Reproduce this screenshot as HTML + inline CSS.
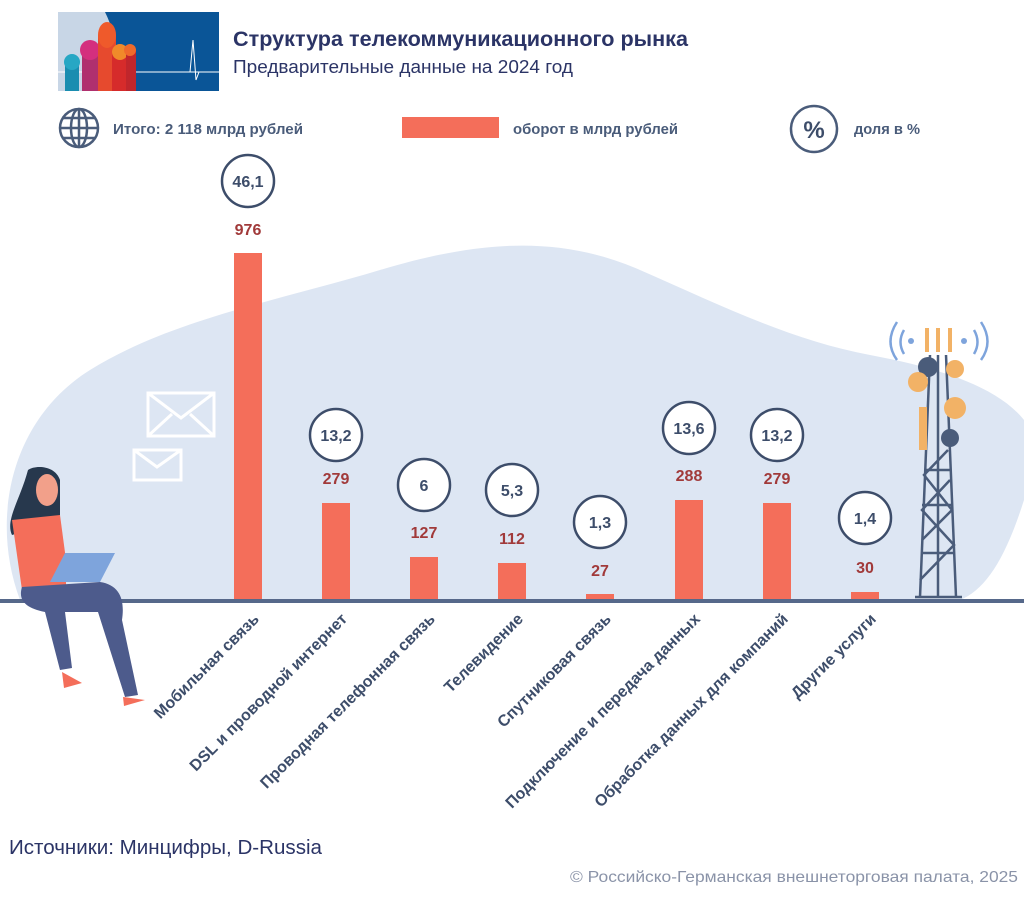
<!DOCTYPE html>
<html><head><meta charset="utf-8"><style>
body{margin:0;background:#fff;width:1024px;height:893px;overflow:hidden;font-family:"Liberation Sans",sans-serif}
</style></head><body>
<svg width="1024" height="893" xmlns="http://www.w3.org/2000/svg" font-family="Liberation Sans, sans-serif">
<path d="M20,600 C-10,520 10,420 90,370 C170,320 280,300 380,270 C480,240 560,235 640,270 C720,305 790,340 870,355 C950,370 1000,390 1024,420 L1024,500 C1005,560 985,590 960,600 Z" fill="#dde6f3"/>
<rect x="58" y="12" width="105" height="79" fill="#c8d6e6"/>
<path d="M105,12 L219,12 L219,91 L105,91 C118,65 118,38 105,12Z" fill="#0a5597"/>
<line x1="58" y1="72" x2="219" y2="72" stroke="#fff" stroke-width="1"/>
<polyline points="185,72 190,72 193,40 196,80 199,72 219,72" fill="none" stroke="#fff" stroke-width="1"/>
<rect x="65" y="62" width="14" height="29" fill="#1a8db0"/><circle cx="72" cy="62" r="8" fill="#27a7c4"/>
<rect x="82" y="50" width="16" height="41" fill="#b0306e"/><circle cx="90" cy="50" r="10" fill="#d42f7e"/>
<rect x="98" y="35" width="18" height="56" fill="#e64a2e"/><ellipse cx="107" cy="35" rx="9" ry="13" fill="#ef5a2b"/>
<rect x="112" y="52" width="16" height="39" fill="#d62b2b"/><circle cx="120" cy="52" r="8" fill="#f08a2a"/>
<rect x="126" y="50" width="10" height="41" fill="#c0262c"/><circle cx="130" cy="50" r="6" fill="#ef6a2b"/>
<text x="233" y="46" font-size="21" font-weight="bold" fill="#2b3466" textLength="455" lengthAdjust="spacingAndGlyphs">Структура телекоммуникационного рынка</text>
<text x="233" y="73" font-size="18" fill="#2b3466" textLength="340" lengthAdjust="spacingAndGlyphs">Предварительные данные на 2024 год</text>
<g stroke="#4a5c7a" stroke-width="2.5" fill="none"><circle cx="79" cy="128" r="19"/><ellipse cx="79" cy="128" rx="8" ry="19"/><line x1="60" y1="128" x2="98" y2="128"/><line x1="63" y1="118" x2="95" y2="118"/><line x1="63" y1="138" x2="95" y2="138"/><line x1="79" y1="109" x2="79" y2="147"/></g>
<text x="113" y="134" font-size="15" font-weight="bold" fill="#4a5c7a" textLength="190" lengthAdjust="spacingAndGlyphs">Итого: 2 118 млрд рублей</text>
<rect x="402" y="117" width="97" height="21" fill="#f46e5a"/>
<text x="513" y="134" font-size="15" font-weight="bold" fill="#4a5c7a" textLength="165" lengthAdjust="spacingAndGlyphs">оборот в млрд рублей</text>
<circle cx="814" cy="129" r="23" fill="#fff" stroke="#4a5c7a" stroke-width="2.5"/>
<text x="814" y="138" font-size="24" font-weight="bold" fill="#3d4d6a" text-anchor="middle">%</text>
<text x="854" y="134" font-size="15" font-weight="bold" fill="#4a5c7a" textLength="66" lengthAdjust="spacingAndGlyphs">доля в %</text>
<g stroke="#fff" stroke-width="3" fill="none"><rect x="148" y="393" width="66" height="43"/><polyline points="148,393 181,418 214,393"/><line x1="148" y1="436" x2="172" y2="414"/><line x1="214" y1="436" x2="190" y2="414"/>
<rect x="134" y="450" width="47" height="30"/><polyline points="134,450 157,467 181,450"/></g>
<g fill="#f46e5a">
<rect x="234" y="253" width="28" height="348"/><rect x="322" y="503" width="28" height="98"/><rect x="410" y="557" width="28" height="44"/><rect x="498" y="563" width="28" height="38"/><rect x="586" y="594" width="28" height="7"/><rect x="675" y="500" width="28" height="101"/><rect x="763" y="503" width="28" height="98"/><rect x="851" y="592" width="28" height="9"/>
</g>
<g font-size="16" font-weight="bold" fill="#a13a3a" text-anchor="middle">
<text x="248" y="235">976</text><text x="336" y="484">279</text><text x="424" y="538">127</text><text x="512" y="544">112</text><text x="600" y="576">27</text><text x="689" y="481">288</text><text x="777" y="484">279</text><text x="865" y="573">30</text>
</g>
<g fill="#fff" stroke="#3d4d6a" stroke-width="2.5">
<circle cx="248" cy="181" r="26"/><circle cx="336" cy="435" r="26"/><circle cx="424" cy="485" r="26"/><circle cx="512" cy="490" r="26"/><circle cx="600" cy="522" r="26"/><circle cx="689" cy="428" r="26"/><circle cx="777" cy="435" r="26"/><circle cx="865" cy="518" r="26"/>
</g>
<g font-size="16" font-weight="bold" fill="#3d4d6a" text-anchor="middle">
<text x="248" y="187">46,1</text><text x="336" y="441">13,2</text><text x="424" y="491">6</text><text x="512" y="496">5,3</text><text x="600" y="528">1,3</text><text x="689" y="434">13,6</text><text x="777" y="441">13,2</text><text x="865" y="524">1,4</text>
</g>
<g stroke="#4a5c7a" stroke-width="2.5" fill="none">
<line x1="930" y1="355" x2="920" y2="597"/><line x1="938" y1="355" x2="938" y2="597"/><line x1="946" y1="355" x2="956" y2="597"/>
<polyline points="922,540 952,510 924,475 948,450"/><polyline points="920,580 954,545 922,510 950,480"/>
<line x1="924" y1="470" x2="950" y2="470"/><line x1="922" y1="505" x2="952" y2="505"/><line x1="921" y1="553" x2="954" y2="553"/><line x1="915" y1="597" x2="962" y2="597"/>
<path d="M897,322 Q884,342 897,360 M904,330 Q897,342 904,354 M981,322 Q994,342 981,360 M974,330 Q981,342 974,354" stroke="#7ea4dc"/>
</g>
<circle cx="911" cy="341" r="3" fill="#7ea4dc"/><circle cx="964" cy="341" r="3" fill="#7ea4dc"/>
<rect x="925" y="328" width="4" height="24" fill="#f2b266"/><rect x="936" y="328" width="4" height="24" fill="#f2b266"/><rect x="948" y="328" width="4" height="24" fill="#f2b266"/>
<circle cx="928" cy="367" r="10" fill="#4a5c7a"/><circle cx="955" cy="369" r="9" fill="#f2b266"/><circle cx="918" cy="382" r="10" fill="#f2b266"/><circle cx="955" cy="408" r="11" fill="#f2b266"/><circle cx="950" cy="438" r="9" fill="#4a5c7a"/><rect x="919" y="407" width="8" height="43" fill="#f2b266"/>
<rect x="0" y="599" width="1024" height="4" fill="#56688a"/>
<path d="M28,470 C20,500 5,520 12,535 L60,520 L60,480 C55,465 35,465 28,470Z" fill="#27384d"/>
<ellipse cx="47" cy="490" rx="11" ry="16" fill="#f2a08a"/>
<path d="M12,520 L60,515 L66,560 L66,587 L22,590 Z" fill="#f46e5a"/>
<path d="M22,587 L100,582 C120,585 125,600 122,620 L138,695 L125,697 L98,612 L65,612 L72,668 L60,670 L45,612 C25,608 18,600 22,587Z" fill="#4d5b8c"/>
<polygon points="65,553 115,553 100,582 50,582" fill="#7ea4dc"/>
<path d="M62,672 L82,683 L64,688Z" fill="#f46e5a"/><path d="M123,697 L145,700 L124,706Z" fill="#f46e5a"/>
<g font-size="16" font-weight="bold" fill="#3d4d6a" text-anchor="end">
<text transform="translate(260,620) rotate(-45)">Мобильная связь</text>
<text transform="translate(348,620) rotate(-45)">DSL и проводной интернет</text>
<text transform="translate(436,620) rotate(-45)">Проводная телефонная связь</text>
<text transform="translate(524,620) rotate(-45)">Телевидение</text>
<text transform="translate(612,620) rotate(-45)">Спутниковая связь</text>
<text transform="translate(701,620) rotate(-45)">Подключение и передача данных</text>
<text transform="translate(789,620) rotate(-45)">Обработка данных для компаний</text>
<text transform="translate(877,620) rotate(-45)">Другие услуги</text>
</g>
<text x="9" y="854" font-size="20" fill="#2b3466" textLength="313" lengthAdjust="spacingAndGlyphs">Источники: Минцифры, D-Russia</text>
<text x="570" y="882" font-size="16" fill="#8a93a8" textLength="448" lengthAdjust="spacingAndGlyphs">© Российско-Германская внешнеторговая палата, 2025</text>
</svg>
</body></html>
